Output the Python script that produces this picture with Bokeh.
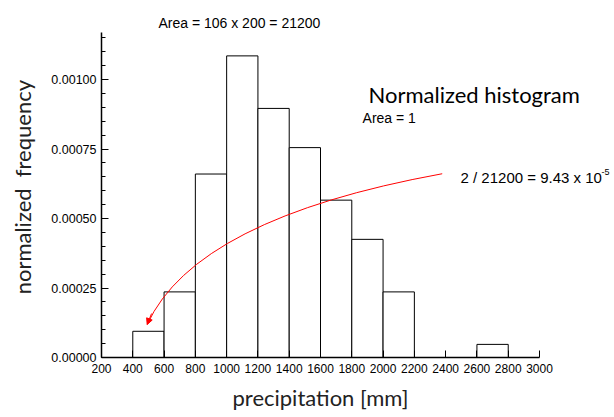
from bokeh.plotting import figure
from bokeh.models import Range1d, FixedTicker, NumeralTickFormatter, Label, Arrow, NormalHead, ColumnDataSource, Title
from bokeh.embed import file_html
from bokeh.resources import INLINE

# data
bin_left = [400, 600, 800, 1000, 1200, 1400, 1600, 1800, 2000, 2200, 2400, 2600]
bin_right = [600, 800, 1000, 1200, 1400, 1600, 1800, 2000, 2200, 2400, 2600, 2800]
density = [0.0000943, 0.000236, 0.000660, 0.001085, 0.000896, 0.000755,
           0.000566, 0.000425, 0.000236, 0.0, 0.0, 0.0000472]
x_ticks = [200, 400, 600, 800, 1000, 1200, 1400, 1600, 1800, 2000, 2200, 2400, 2600, 2800, 3000]
y_ticks = [0.0, 0.00025, 0.0005, 0.00075, 0.001]
y_minor = [0.00005 * i for i in range(0, 24)]

X_AXIS_END = 3000
Y_AXIS_END = 0.00117

p = figure(width=614, height=417, output_backend="svg", toolbar_location=None,
           x_range=Range1d(200, 3479.4), y_range=Range1d(0, 0.0012842),
           min_border_left=101, min_border_right=0, min_border_top=0, min_border_bottom=60)
p.outline_line_color = None
p.grid.visible = False
p.background_fill_color = "white"
p.border_fill_color = "white"

src = ColumnDataSource(dict(left=bin_left, right=bin_right, top=density, bottom=[0] * len(density)))
p.quad(left="left", right="right", top="top", bottom="bottom", source=src,
       fill_color="white", line_color="black", line_width=1)

xa = p.xaxis[0]
xa.bounds = (200, X_AXIS_END)
xa.ticker = FixedTicker(ticks=x_ticks)
xa.major_tick_in = 7
xa.major_tick_out = 0
xa.minor_tick_in = 0
xa.minor_tick_out = 0
xa.major_label_text_font = "Liberation Sans"
xa.major_label_text_font_size = "12px"
xa.major_label_text_color = "black"
xa.major_label_standoff = 6
xa.axis_line_color = "black"
xa.axis_line_width = 1.5
xa.major_tick_line_color = "black"

ya = p.yaxis[0]
ya.bounds = (0, Y_AXIS_END)
ya.ticker = FixedTicker(ticks=y_ticks, minor_ticks=y_minor)
ya.formatter = NumeralTickFormatter(format="0.00000")
ya.major_tick_in = 7
ya.major_tick_out = 0
ya.minor_tick_in = 4
ya.minor_tick_out = 0
ya.major_label_text_font = "Liberation Sans"
ya.major_label_text_font_size = "12.5px"
ya.major_label_text_color = "black"
ya.major_label_standoff = 5
ya.axis_line_color = "black"
ya.axis_line_width = 1.5
ya.axis_label = "normalized\u00a0\u00a0frequency\u00a0\u00a0\u00a0"
ya.axis_label_text_font = "Lato"
ya.axis_label_text_font_size = "22px"
ya.axis_label_text_font_style = "normal"
ya.axis_label_text_color = "#222222"
ya.axis_label_standoff = 12

xt = Title(text="precipitation [mm]", align="left", offset=131, text_font="Lato",
           text_font_size="22px", text_font_style="normal", text_color="#222222", standoff=12)
p.add_layout(xt, "below")

# curved red arrow
p.quadratic(x0=[2378], y0=[0.000661], x1=[492], y1=[0.0001187], cx=[801], cy=[0.0005],
            line_color="red", line_width=1)
p.add_layout(Arrow(end=NormalHead(size=6, fill_color="red", line_color="red", line_width=1),
                   x_start=520, y_start=0.000158, x_end=492, y_end=0.0001187,
                   line_color="red", line_width=1))

p.add_layout(Label(x=564, y=0.001205, text="Area = 106 x 200 = 21200", text_font="Liberation Sans",
                   text_font_size="14px", text_color="black", text_baseline="alphabetic"))
p.add_layout(Label(x=1907, y=0.000946, text="Normalized histogram", text_font="Lato",
                   text_font_size="22px", text_color="black", text_baseline="alphabetic"))
p.add_layout(Label(x=1869, y=0.000862, text="Area = 1", text_font="Liberation Sans",
                   text_font_size="14px", text_color="black", text_baseline="alphabetic"))
p.add_layout(Label(x=2495, y=0.000649, text="2 / 21200 = 9.43 x 10", text_font="Liberation Sans",
                   text_font_size="15px", text_color="black", text_baseline="alphabetic"))
p.add_layout(Label(x=3396, y=0.000668, text="-5", text_font="Liberation Sans",
                   text_font_size="9px", text_color="black", text_baseline="alphabetic"))

open("out.html", "w").write(file_html(p, INLINE))
